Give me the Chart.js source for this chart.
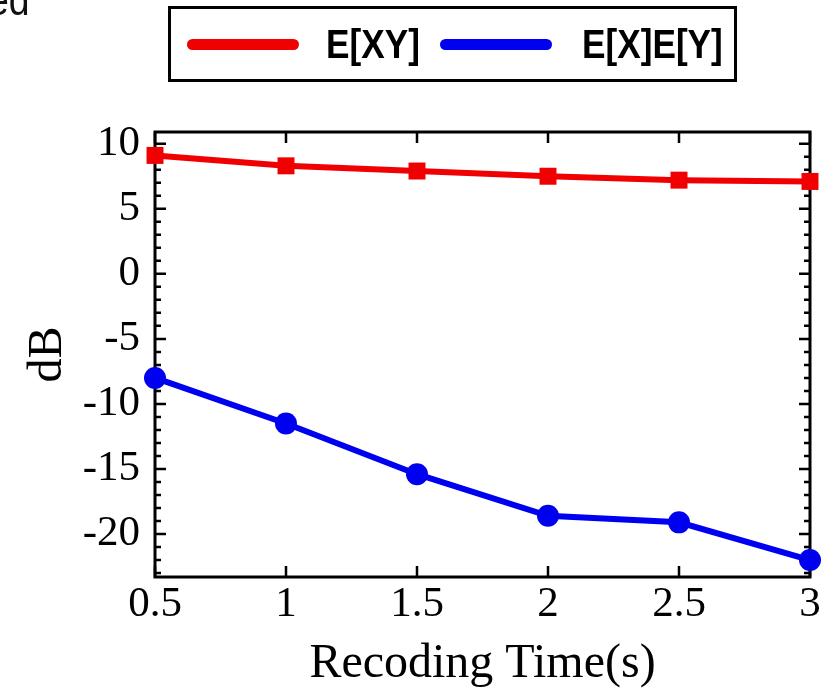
<!DOCTYPE html>
<html>
<head>
<meta charset="utf-8">
<script src="https://cdn.jsdelivr.net/npm/chart.js@4/dist/chart.umd.min.js"></script>
<style>
  body { margin: 0; background: #fff; }
  #wrap { position: relative; width: 840px; height: 693px; overflow: hidden; background: #fff; }
  #chart { position: absolute; left: 0; top: 0; }
  #cut { position: absolute; left: -12px; top: -25px; font: 44px "Liberation Sans", Arial, sans-serif; color: #111; transform: scaleX(0.85); transform-origin: left; }
  #legend {
    position: absolute; left: 168px; top: 6px; width: 563px; height: 70px;
    border: 3px solid #000; display: flex; align-items: center;
    font: bold 40px "Liberation Sans", Arial, sans-serif; color: #000;
  }
  .item { display: flex; align-items: center; position: relative; height: 100%; }
  .swatch { width: 112px; height: 11px; border-radius: 6px; }
  .lbl { display: inline-block; transform: scaleX(0.88); transform-origin: left center; }
</style>
</head>
<body>
<div id="wrap">
  <canvas id="chart" width="840" height="693"></canvas>
  <span id="cut">ed</span>
  <div id="legend"></div>
</div>
<script>
// data
const times = [0.5, 1, 1.5, 2, 2.5, 3];
const exy = [9.1, 8.3, 7.9, 7.5, 7.2, 7.1];
const exey = [-8.0, -11.5, -15.4, -18.6, -19.1, -22.0];
const xTicks = [0.5, 1, 1.5, 2, 2.5, 3];
const yTicks = [-20, -15, -10, -5, 0, 5, 10];
const seriesNames = ['E[XY]', 'E[X]E[Y]'];
const seriesColors = ['#f00000', '#0000f0'];

// box round the plot and inward ticks like matlab
const frameTicks = {
  id: 'frameTicks',
  beforeDatasetsDraw(chart) {
    const { ctx, chartArea: a, scales: { x, y } } = chart;
    ctx.save();
    ctx.strokeStyle = '#000';
    ctx.lineWidth = 3;
    ctx.strokeRect(a.left, a.top, a.right - a.left, a.bottom - a.top);
    ctx.lineWidth = 2.5;
    ctx.beginPath();
    xTicks.forEach(v => {
      const px = x.getPixelForValue(v);
      ctx.moveTo(px, a.bottom); ctx.lineTo(px, a.bottom - 11);
      ctx.moveTo(px, a.top); ctx.lineTo(px, a.top + 11);
    });
    for (let v = Math.ceil(y.min); v <= y.max; v++) {
      const py = y.getPixelForValue(v);
      const len = (v % 5 === 0) ? 11 : 6;
      ctx.moveTo(a.left, py); ctx.lineTo(a.left + len, py);
      ctx.moveTo(a.right, py); ctx.lineTo(a.right - len, py);
    }
    ctx.stroke();
    ctx.restore();
  }
};

const serif = 'Liberation Serif, "Times New Roman", serif';

const chart = new Chart(document.getElementById('chart'), {
  type: 'line',
  data: {
    datasets: [
      {
        label: seriesNames[0],
        data: times.map((t, i) => ({ x: t, y: exy[i] })),
        borderColor: seriesColors[0],
        backgroundColor: seriesColors[0],
        borderWidth: 6,
        pointStyle: 'rect',
        pointRadius: 12,
        pointBorderWidth: 0,
        clip: false
      },
      {
        label: seriesNames[1],
        data: times.map((t, i) => ({ x: t, y: exey[i] })),
        borderColor: seriesColors[1],
        backgroundColor: seriesColors[1],
        borderWidth: 6,
        pointStyle: 'circle',
        pointRadius: 11,
        pointBorderWidth: 0,
        clip: false
      }
    ]
  },
  options: {
    responsive: false,
    animation: false,
    layout: { padding: { left: 20, top: 132, right: 30, bottom: 0 } },
    plugins: { legend: { display: false }, tooltip: { enabled: false } },
    scales: {
      x: {
        type: 'linear',
        min: 0.5,
        max: 3,
        afterBuildTicks: s => { s.ticks = xTicks.map(v => ({ value: v })); },
        afterFit: s => { s.height = 116; },
        grid: { display: false, drawTicks: false },
        border: { display: false },
        ticks: {
          padding: 2,
          color: '#000',
          font: { family: serif, size: 43 },
          maxRotation: 0,
          autoSkip: false,
          callback: v => String(v)
        },
        title: {
          display: true,
          text: 'Recoding Time(s)',
          color: '#000',
          font: { family: serif, size: 48 },
          padding: { top: 0, bottom: 0 }
        }
      },
      y: {
        min: -23.3,
        max: 10.9,
        afterBuildTicks: s => { s.ticks = yTicks.map(v => ({ value: v })); },
        afterFit: s => { s.width = 135; },
        grid: { display: false, drawTicks: false },
        border: { display: false },
        ticks: {
          padding: 15,
          color: '#000',
          font: { family: serif, size: 43 },
          callback: v => String(v)
        },
        title: {
          display: true,
          text: 'dB',
          color: '#000',
          font: { family: serif, size: 48 },
          padding: { top: 0, bottom: 2 }
        }
      }
    }
  },
  plugins: [frameTicks]
});

// legend outside the canvas, built from the datasets
const legend = document.getElementById('legend');
const swLeft = [16, 269];
const txtGap = [27, 30];
chart.data.datasets.forEach((ds, i) => {
  const item = document.createElement('div');
  item.className = 'item';
  item.style.position = 'absolute';
  item.style.left = swLeft[i] + 'px';
  const sw = document.createElement('div');
  sw.className = 'swatch';
  sw.style.background = ds.borderColor;
  const txt = document.createElement('span');
  txt.className = 'lbl';
  txt.textContent = ds.label;
  txt.style.marginLeft = txtGap[i] + 'px';
  item.appendChild(sw);
  item.appendChild(txt);
  legend.appendChild(item);
});
</script>
</body>
</html>
